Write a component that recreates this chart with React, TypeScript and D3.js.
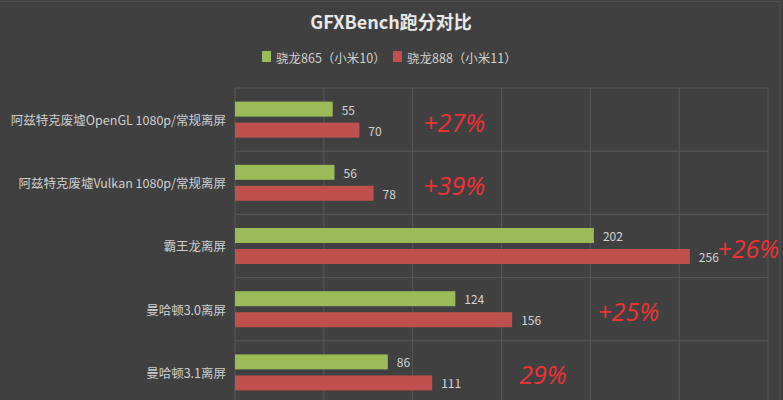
import React from "react";
import { scaleLinear, scaleBand, range } from "d3";

// categories, top to bottom
const categories = [
  "阿兹特克废墟OpenGL 1080p/常规离屏",
  "阿兹特克废墟Vulkan 1080p/常规离屏",
  "霸王龙离屏",
  "曼哈顿3.0离屏",
  "曼哈顿3.1离屏",
];
const seriesNames = ["骁龙865（小米10）", "骁龙888（小米11）"];
const sd865 = [55, 56, 202, 124, 86];
const sd888 = [70, 78, 256, 156, 111];
const seriesColors = ["#9BBB59", "#C0504D"];
const xTicks = [0, 50, 100, 150, 200, 250, 300];

// red hand-written annotations, and where (in score units) they start
const gainLabels = ["+27%", "+39%", "+26%", "+25%", "29%"];
const gainAt = [106, 106, 271.5, 204, 160];

const W = 783;
const H = 400;
const font = "'Noto Sans CJK SC', 'Noto Sans', sans-serif";

export default function App() {
  const x = scaleLinear().domain([0, 300]).range([235, 768]);
  const y = scaleBand<string>().domain(categories).range([88, 404]).padding(0);
  const inner = 36;
  const off = (y.bandwidth() - inner) / 2;
  const y1 = scaleBand<number>()
    .domain([0, 1])
    .range([off, off + inner])
    .paddingInner(0.286)
    .paddingOuter(0);
  const values = [sd865, sd888];

  return (
    <svg
      width={W}
      height={H}
      style={{ position: "absolute", left: 0, top: 0, background: "#404040" }}
      fontFamily={font}
    >
      <rect x={-1} y={1.5} width={781} height={H} fill="none" stroke="#4e4e4e" />

      <text x={391} y={29} textAnchor="middle" fontSize={18} fontWeight="bold" fill="#e8e8e8">
        GFXBench跑分对比
      </text>

      {/* legend */}
      <g fontSize={12.5} fill="#d0d0d0">
        <rect x={262} y={51} width={9} height={11} fill={seriesColors[0]} />
        <text x={276} y={57} dominantBaseline="central">{seriesNames[0]}</text>
        <rect x={393} y={51} width={9} height={11} fill={seriesColors[1]} />
        <text x={407} y={57} dominantBaseline="central">{seriesNames[1]}</text>
      </g>

      {/* grid */}
      <g stroke="#575757" strokeWidth={1}>
        {xTicks.map((t) => (
          <line key={t} x1={x(t)} x2={x(t)} y1={88} y2={H} />
        ))}
        {range(categories.length + 1).map((i) => {
          const yy = 88 + i * y.step();
          return <line key={i} x1={x(0)} x2={x(300)} y1={yy} y2={yy} />;
        })}
      </g>

      {/* bars */}
      {categories.map((c, ci) => (
        <g key={c} transform={`translate(0,${y(c)})`}>
          {values.map((vals, si) => (
            <g key={si}>
              <rect
                x={x(0)}
                y={y1(si)}
                width={x(vals[ci]) - x(0)}
                height={y1.bandwidth()}
                fill={seriesColors[si]}
              />
              <text
                x={x(vals[ci]) + 9}
                y={(y1(si) as number) + y1.bandwidth() / 2}
                dominantBaseline="central"
                fontSize={12}
                fill="#d4d4d4"
              >
                {vals[ci]}
              </text>
            </g>
          ))}
          <text
            x={226}
            y={y.bandwidth() / 2}
            textAnchor="end"
            dominantBaseline="central"
            fontSize={12.5}
            fill="#cfcfcf"
          >
            {c}
          </text>
          <text
            x={x(gainAt[ci])}
            y={y.bandwidth() / 2 + 2}
            dominantBaseline="central"
            fontSize={25}
            fontStyle="italic"
            fill="#ee3333"
            fontFamily="'Open Sans', 'Noto Sans', sans-serif"
          >
            {gainLabels[ci]}
          </text>
        </g>
      ))}
    </svg>
  );
}
